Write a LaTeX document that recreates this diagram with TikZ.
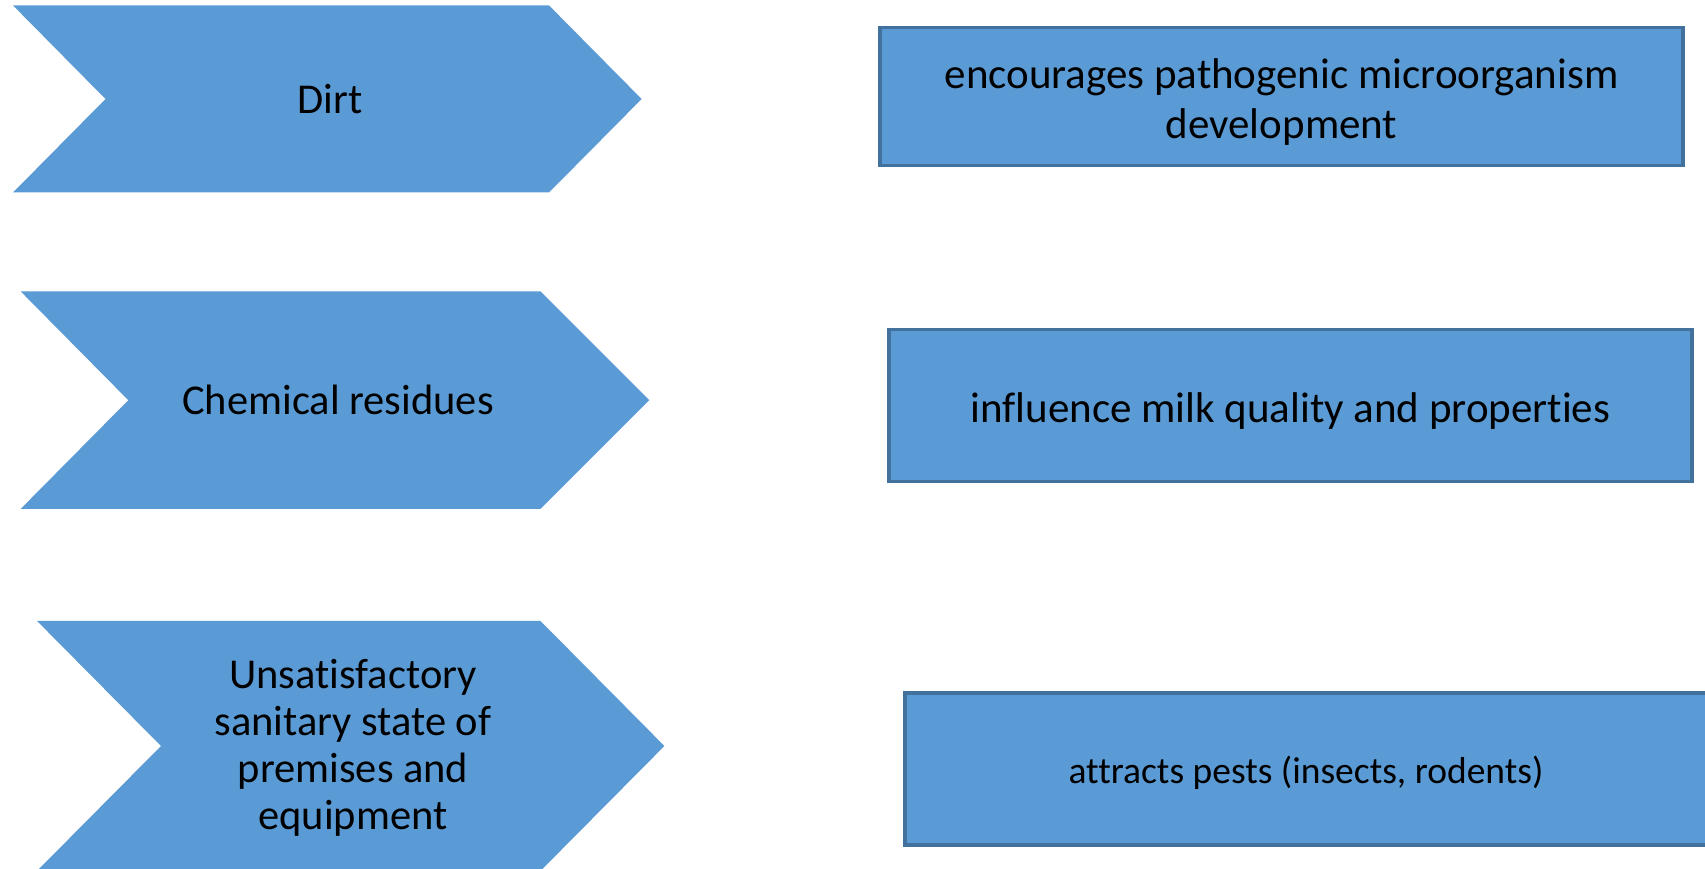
\documentclass[tikz,border=0pt]{standalone}
\usepackage{fontspec}
\setmainfont{Carlito}[Ligatures={NoCommon,NoContextual}]
\definecolor{boxblue}{HTML}{5B9BD5}
\definecolor{edgeblue}{HTML}{41719C}
\begin{document}
\begin{tikzpicture}[x=1pt,y=-1pt,
  chev/.style={fill=boxblue,draw=none},
  chevtext/.style={align=center,font=\fontsize{42.5}{47}\selectfont,inner sep=0pt},
  effect/.style={rectangle,fill=boxblue,draw=edgeblue,line width=3.5pt,inner sep=0pt},
  effecttext/.style={align=center,inner sep=0pt,font=\fontsize{43}{50}\selectfont}]
\clip (0,0) rectangle (1705,869);
\fill[white] (0,0) rectangle (1705,869);
% chevrons
\fill[chev] (13,5.4) -- (549,5.4) -- (641.6,99) -- (549,192.5) -- (13,192.5) -- (105.5,99) -- cycle;
\fill[chev] (20.7,291.4) -- (540.4,291.4) -- (649.2,400.2) -- (540.4,508.9) -- (20.7,508.9) -- (128.3,400.2) -- cycle;
\fill[chev] (37,620.9) -- (540.4,620.9) -- (664.4,746) -- (540.4,871) -- (37,871) -- (161,746) -- cycle;
\node[chevtext] (dirt) at (330,99) {Dirt};
\node[chevtext] (chem) at (338,400) {Chemical residues};
\node[chevtext] (sanit) at (353,748) {Unsatisfactory\\sanitary state of\\premises and\\equipment};
% effects
\node[effect,minimum width=803pt,minimum height=138pt] (e1) at (1281.5,96.3) {};
\node[effect,minimum width=803pt,minimum height=152pt] (e2) at (1290.3,405.6) {};
\node[effect,minimum width=802pt,minimum height=152pt] (e3) at (1306,768.9) {};
\node[effecttext] (e1t) at ([yshift=-5.5pt]e1.center) {encourages pathogenic microorganism\\development};
\node[effecttext] (e2t) at ([yshift=-5.5pt]e2.center) {influence milk quality and properties};
\node[effecttext,font=\fontsize{37.5}{45}\selectfont] (e3t) at ([yshift=-3.5pt]e3.center) {attracts pests (insects, rodents)};
\end{tikzpicture}
\end{document}
